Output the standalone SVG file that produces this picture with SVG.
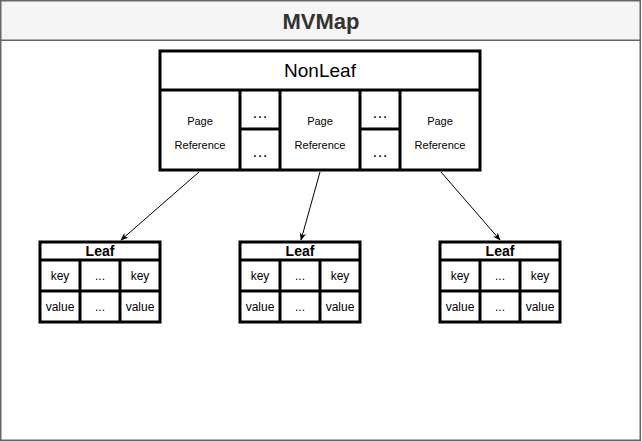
<svg xmlns="http://www.w3.org/2000/svg" width="642" height="441" viewBox="0 0 642 441">
<defs>
<style>
.frame{fill:#ffffff;stroke:#666666;stroke-width:1.5}
.hdr{fill:#f5f5f5;stroke:#666666;stroke-width:1.5}
.box{fill:#ffffff;stroke:#000000;stroke-width:3}
.ln{stroke:#000000;stroke-width:3;fill:none}
.conn{stroke:#000000;stroke-width:1;fill:none}
.t{font-family:"Liberation Sans",Arial,sans-serif;text-anchor:middle;fill:#000000}
.title{font-size:22px;font-weight:bold;fill:#333333}
.nl{font-size:19px}
.pr{font-size:11px}
.dots{font-size:16px}
.lf{font-size:14px;font-weight:bold}
.kv{font-size:12px}
</style>
<marker id="arr" viewBox="0 0 10 10" refX="9" refY="5" markerWidth="8" markerHeight="8" orient="auto" markerUnits="userSpaceOnUse">
<path d="M0,1 L10,5 L0,9 L3,5 Z" fill="#000"/>
</marker>
<g id="leafShape">
<rect class="box" x="0" y="0" width="120" height="80"/>
<line class="ln" x1="0" y1="18" x2="120" y2="18"/>
<line class="ln" x1="0" y1="49" x2="120" y2="49"/>
<line class="ln" x1="40" y1="18" x2="40" y2="80"/>
<line class="ln" x1="80" y1="18" x2="80" y2="80"/>
<text class="t lf" x="60" y="14">Leaf</text>
<text class="t kv" x="20" y="38">key</text>
<text class="t kv" x="60" y="38" fill="#333">...</text>
<text class="t kv" x="100" y="38">key</text>
<text class="t kv" x="20" y="69">value</text>
<text class="t kv" x="60" y="69" fill="#333">...</text>
<text class="t kv" x="100" y="69">value</text>
</g>
</defs>
<g id="mvmap">
<rect class="frame" x="0.75" y="0.75" width="639.5" height="439.5"/>
<rect class="hdr" x="0.75" y="0.75" width="639.5" height="39.5"/>
<text class="t title" x="321" y="29">MVMap</text>
</g>
<g id="nonleaf">
<rect class="box" x="160" y="51" width="320" height="119"/>
<line class="ln" x1="160" y1="90" x2="480" y2="90"/>
<line class="ln" x1="240" y1="90" x2="240" y2="170"/>
<line class="ln" x1="280" y1="90" x2="280" y2="170"/>
<line class="ln" x1="360" y1="90" x2="360" y2="170"/>
<line class="ln" x1="400" y1="90" x2="400" y2="170"/>
<line class="ln" x1="240" y1="129" x2="280" y2="129"/>
<line class="ln" x1="360" y1="129" x2="400" y2="129"/>
<text class="t nl" x="320" y="77">NonLeaf</text>
<text class="t pr" x="200" y="125">Page</text>
<text class="t pr" x="200" y="149">Reference</text>
<text class="t pr" x="320" y="125">Page</text>
<text class="t pr" x="320" y="149">Reference</text>
<text class="t pr" x="440" y="125">Page</text>
<text class="t pr" x="440" y="149">Reference</text>
<text class="t dots" x="260" y="118">…</text>
<text class="t dots" x="260" y="157">…</text>
<text class="t dots" x="380" y="118">…</text>
<text class="t dots" x="380" y="157">…</text>
</g>
<g id="leaf1"><use href="#leafShape" x="40" y="242"/></g>
<g id="leaf2"><use href="#leafShape" x="240" y="242"/></g>
<g id="leaf3"><use href="#leafShape" x="440" y="242"/></g>
<g id="connectors">
<line class="conn" x1="199" y1="172" x2="121" y2="240" marker-end="url(#arr)"/>
<line class="conn" x1="320" y1="172" x2="301" y2="240" marker-end="url(#arr)"/>
<line class="conn" x1="441" y1="172" x2="500" y2="240" marker-end="url(#arr)"/>
</g>
</svg>
